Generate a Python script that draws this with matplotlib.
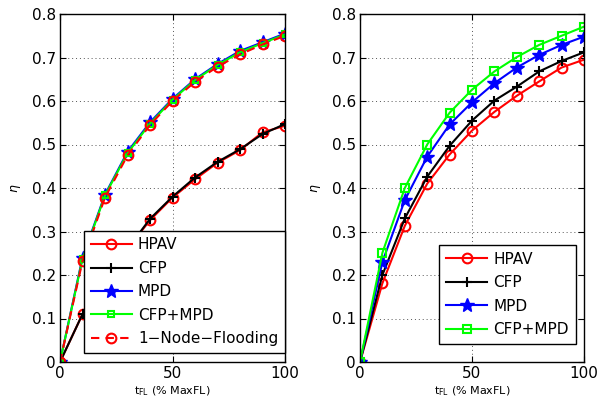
import matplotlib
matplotlib.use("Agg")
import matplotlib.pyplot as plt
from matplotlib.ticker import FuncFormatter

# x axis: flooding time (% of MaxFL)
t_fl = [0, 10, 20, 30, 40, 50, 60, 70, 80, 90, 100]

# left panel
hpav_l = [0, 0.11, 0.19, 0.26, 0.326, 0.378, 0.42, 0.458, 0.487, 0.528, 0.543]
cfp_l = [0, 0.11, 0.19, 0.26, 0.329, 0.38, 0.424, 0.46, 0.489, 0.524, 0.547]
mpd_l = [0, 0.24, 0.385, 0.483, 0.551, 0.605, 0.65, 0.685, 0.715, 0.735, 0.755]
cfpmpd_l = [0, 0.237, 0.383, 0.48, 0.548, 0.603, 0.648, 0.683, 0.712, 0.733, 0.753]
flood_l = [0, 0.232, 0.378, 0.475, 0.545, 0.600, 0.644, 0.679, 0.707, 0.730, 0.750]

# right panel
hpav_r = [0, 0.181, 0.313, 0.41, 0.477, 0.532, 0.575, 0.612, 0.645, 0.677, 0.695]
cfp_r = [0, 0.2, 0.33, 0.426, 0.497, 0.555, 0.601, 0.633, 0.668, 0.692, 0.712]
mpd_r = [0, 0.23, 0.372, 0.472, 0.546, 0.597, 0.641, 0.677, 0.706, 0.729, 0.748]
cfpmpd_r = [0, 0.251, 0.4, 0.5, 0.573, 0.626, 0.668, 0.701, 0.729, 0.750, 0.771]

plt.rcParams['font.family'] = ['DejaVu Sans']

fig = plt.figure(figsize=(6.06, 4.03), dpi=100)
ax1 = fig.add_axes([60/606, 41/403, 225/606, 348/403])
ax2 = fig.add_axes([360/606, 41/403, 224/606, 348/403])

def style(ax):
    ax.set_xlim(0, 100)
    ax.set_ylim(0, 0.8)
    ax.set_xticks([0, 50, 100])
    ax.set_yticks([0, 0.1, 0.2, 0.3, 0.4, 0.5, 0.6, 0.7, 0.8])
    ax.yaxis.set_major_formatter(FuncFormatter(lambda v, p: "0" if v == 0 else "%.1f" % v))
    ax.tick_params(direction="in", length=4, labelsize=11, top=True, right=True, pad=3)
    ax.grid(True, linestyle=(0, (1, 3)), color="#555555", linewidth=0.7)
    for s in ax.spines.values():
        s.set_linewidth(1.0)
    ax.set_xlabel(r"$\mathrm{t_{FL}}$ (% MaxFL)", fontsize=8, labelpad=2)
    ax.set_ylabel(r"$\eta$", fontsize=9, labelpad=6)

def add_legend(ax, anchor):
    leg = ax.legend(loc="lower right", bbox_to_anchor=anchor, fontsize=11, handlelength=2.7,
                    borderpad=0.45, labelspacing=0.55, handletextpad=0.4, borderaxespad=0,
                    fancybox=False, framealpha=1, edgecolor="black")
    leg.get_frame().set_linewidth(1.0)

lw = 1.5
# left
ax1.plot(t_fl, hpav_l, color="red", lw=lw, marker="o", ms=7, mfc="none", mew=1.5, label="HPAV")
ax1.plot(t_fl, cfp_l, color="black", lw=lw, marker="+", ms=7, mew=1.5, label="CFP")
ax1.plot(t_fl, mpd_l, color="blue", lw=lw, marker="*", ms=10, label="MPD")
ax1.plot(t_fl, cfpmpd_l, color="#00ff00", lw=lw, marker="s", ms=5, mfc="none", mew=1.5, label="CFP+MPD")
ax1.plot(t_fl, flood_l, color="red", lw=lw, ls=(0, (4, 3)), marker="o", ms=7, mfc="none", mew=1.5,
         label="1\u2212Node\u2212Flooding")
style(ax1)
add_legend(ax1, (1.0, 0.026))

# right
ax2.plot(t_fl, hpav_r, color="red", lw=lw, marker="o", ms=7, mfc="none", mew=1.5, label="HPAV")
ax2.plot(t_fl, cfp_r, color="black", lw=lw, marker="+", ms=7, mew=1.5, label="CFP")
ax2.plot(t_fl, mpd_r, color="blue", lw=lw, marker="*", ms=10, label="MPD")
ax2.plot(t_fl, cfpmpd_r, color="#00ff00", lw=lw, marker="s", ms=6, mfc="none", mew=1.5, label="CFP+MPD")
style(ax2)
add_legend(ax2, (0.964, 0.052))

fig.savefig("out.png", dpi=100)
